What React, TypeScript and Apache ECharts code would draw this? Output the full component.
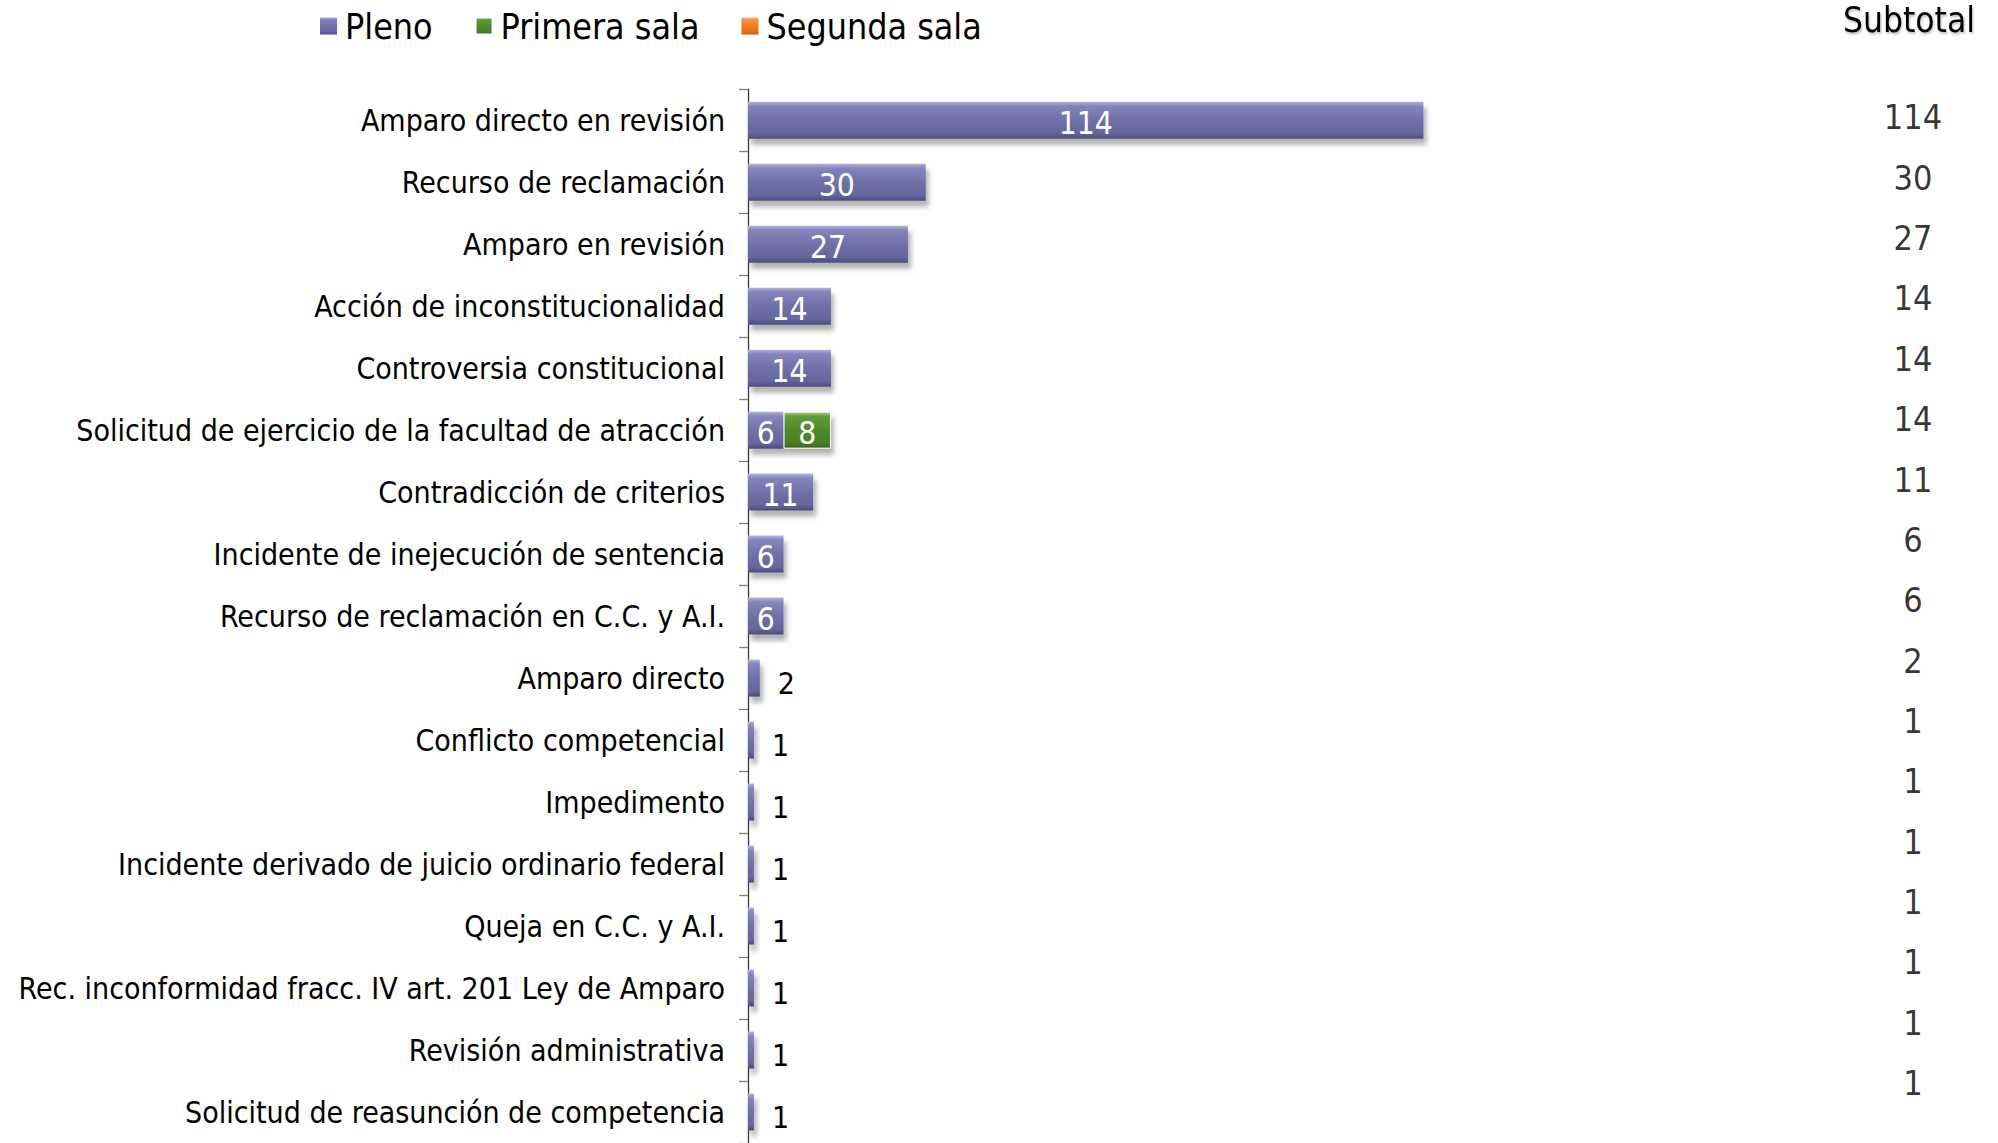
import React, { useEffect, useRef } from "react";
import * as echarts from "echarts";

const categories = [
  "Amparo directo en revisión",
  "Recurso de reclamación",
  "Amparo en revisión",
  "Acción de inconstitucionalidad",
  "Controversia constitucional",
  "Solicitud de ejercicio de la facultad de atracción",
  "Contradicción de criterios",
  "Incidente de inejecución de sentencia",
  "Recurso de reclamación en C.C. y A.I.",
  "Amparo directo",
  "Conflicto competencial",
  "Impedimento",
  "Incidente derivado de juicio ordinario federal",
  "Queja en C.C. y A.I.",
  "Rec. inconformidad fracc. IV art. 201 Ley de Amparo",
  "Revisión administrativa",
  "Solicitud de reasunción de competencia",
];

const pleno = [114, 30, 27, 14, 14, 6, 11, 6, 6, 2, 1, 1, 1, 1, 1, 1, 1];
const primeraSala = [0, 0, 0, 0, 0, 8, 0, 0, 0, 0, 0, 0, 0, 0, 0, 0, 0];
const segundaSala = [0, 0, 0, 0, 0, 0, 0, 0, 0, 0, 0, 0, 0, 0, 0, 0, 0];
const subtotalTitle = "Subtotal";

const FONT = "'DejaVu Sans Condensed', 'DejaVu Sans', sans-serif";

const grad = (top: string, hi: string, mid: string, low: string, bottom: string) =>
  new echarts.graphic.LinearGradient(0, 0, 0, 1, [
    { offset: 0, color: top },
    { offset: 0.12, color: hi },
    { offset: 0.5, color: mid },
    { offset: 0.85, color: low },
    { offset: 1, color: bottom },
  ]);

const insideLabel = {
  show: true,
  position: "inside",
  color: "#ffffff",
  fontSize: 31.5,
  fontFamily: FONT,
  offset: [0, 3],
};
const outsideLabel = {
  show: true,
  position: "right",
  distance: 18,
  color: "#000000",
  fontSize: 30,
  fontFamily: FONT,
  offset: [0, 5],
};

const shadow = {
  shadowColor: "rgba(0,0,0,0.3)",
  shadowBlur: 5,
  shadowOffsetX: 3,
  shadowOffsetY: 6,
};

export default function App() {
  const ref = useRef<HTMLDivElement>(null);
  useEffect(() => {
    if (!ref.current) return;
    const chart = echarts.init(ref.current, undefined, { renderer: "svg" });
    const subtotals = pleno.map((v, i) => v + primeraSala[i] + segundaSala[i]);
    const mk = (arr: number[]) =>
      arr.map((v) => ({
        value: v,
        label: v === 0 ? { show: false } : v < 5 ? outsideLabel : insideLabel,
      }));
    chart.setOption({
      animation: false,
      backgroundColor: "#ffffff",
      textStyle: { fontFamily: FONT },
      title: {
        text: subtotalTitle,
        left: 1843,
        top: 2,
        padding: 0,
        textStyle: {
          fontSize: 35,
          fontWeight: "normal",
          fontFamily: FONT,
          color: "#000",
          textShadowColor: "rgba(0,0,0,0.25)",
          textShadowBlur: 2,
          textShadowOffsetX: 1,
          textShadowOffsetY: 2,
        },
      },
      legend: {
        left: 320,
        top: 8,
        padding: 0,
        itemWidth: 17,
        itemHeight: 17,
        itemGap: 42,
        icon: "rect",
        textStyle: { fontSize: 35.5, color: "#000", fontFamily: FONT, padding: [0, 0, 0, 3] },
        data: ["Pleno", "Primera sala", "Segunda sala"],
      },
      grid: [
        { left: 748, top: 89.2, width: 711, height: 1058.6, containLabel: false },
        { left: 1853, top: 87.3, width: 120, height: 1025.8, containLabel: false },
      ],
      xAxis: [
        { type: "value", min: 0, max: 120, show: false, gridIndex: 0 },
        { type: "value", min: 0, max: 1, show: false, gridIndex: 1 },
      ],
      yAxis: [
        {
          type: "category",
          gridIndex: 0,
          inverse: true,
          data: categories,
          axisLine: { show: true, lineStyle: { color: "#3a3a3a", width: 1.3 } },
          axisTick: { show: true, length: 9, lineStyle: { color: "#7f7f7f", width: 1.3 } },
          axisLabel: {
            fontSize: 30,
            color: "#000",
            margin: 23,
            fontFamily: FONT,
            padding: [6, 0, 0, 0],
          },
          splitLine: { show: false },
        },
        {
          type: "category",
          gridIndex: 1,
          inverse: true,
          data: categories,
          show: false,
        },
      ],
      series: [
        {
          name: "Pleno",
          type: "bar",
          stack: "total",
          barWidth: 37,
          xAxisIndex: 0,
          yAxisIndex: 0,
          itemStyle: {
            color: grad("#b4b4de", "#8585bd", "#7070a8", "#66669c", "#4b4b7c"),
            ...shadow,
          },
          data: mk(pleno),
        },
        {
          name: "Primera sala",
          type: "bar",
          stack: "total",
          barWidth: 37,
          xAxisIndex: 0,
          yAxisIndex: 0,
          itemStyle: {
            color: grad("#9fd27a", "#5f9d37", "#4f8a2b", "#477f25", "#35641a"),
            borderColor: "#ffffff",
            borderWidth: 1,
            ...shadow,
          },
          data: mk(primeraSala),
        },
        {
          name: "Segunda sala",
          type: "bar",
          stack: "total",
          barWidth: 37,
          xAxisIndex: 0,
          yAxisIndex: 0,
          itemStyle: {
            color: grad("#ffc08a", "#f89440", "#f07d1e", "#e07015", "#b8570c"),
            ...shadow,
          },
          data: mk(segundaSala),
        },
        {
          name: "subtotal",
          type: "scatter",
          xAxisIndex: 1,
          yAxisIndex: 1,
          symbolSize: 1,
          itemStyle: { color: "rgba(0,0,0,0)" },
          silent: true,
          label: {
            show: true,
            position: "inside",
            color: "#000",
            fontSize: 34,
            fontFamily: FONT,
            formatter: (p: any) => String(p.value[2]),
          },
          data: subtotals.map((s, i) => [0.5, i, s]),
        },
      ],
    });
    return () => chart.dispose();
  }, []);
  return (
    <div
      ref={ref}
      style={{ position: "absolute", left: 0, top: 0, width: 1998, height: 1143 }}
    />
  );
}
